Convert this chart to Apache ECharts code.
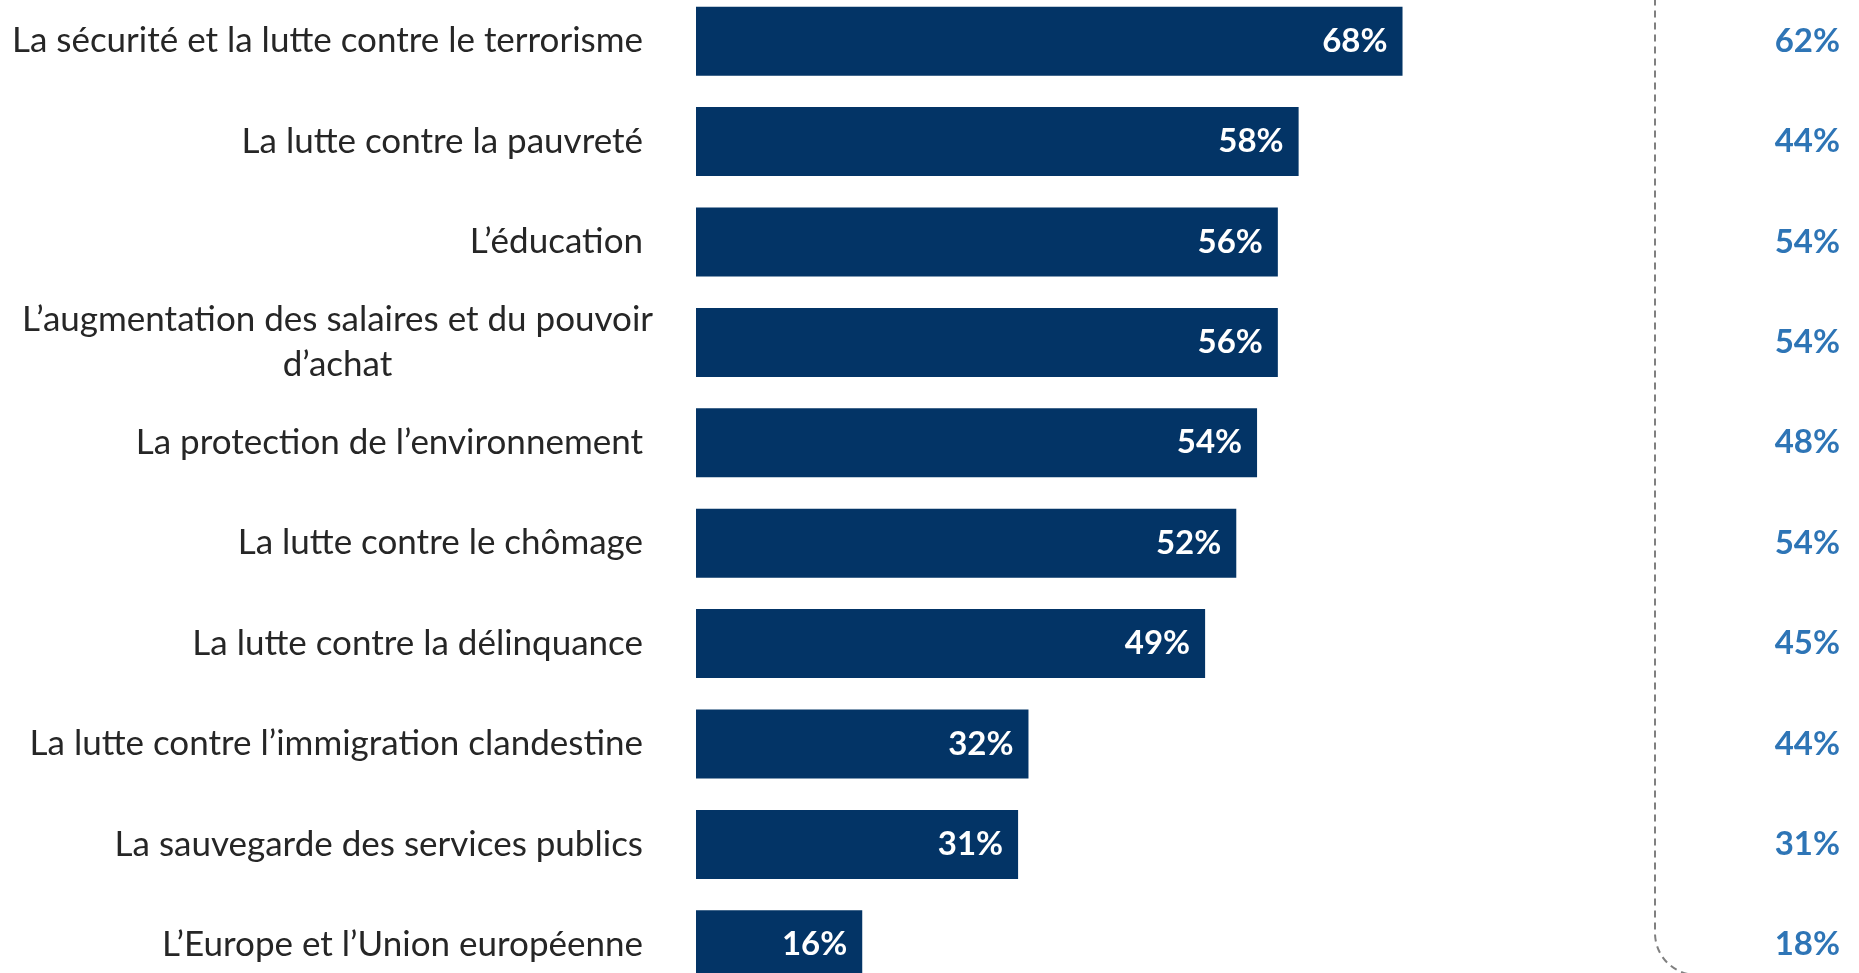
<!DOCTYPE html>
<html>
<head>
<meta charset="utf-8">
<script src="https://cdn.jsdelivr.net/npm/echarts@6/dist/echarts.min.js"></script>
<style>
  html, body { margin: 0; padding: 0; background: #fff; }
  #chart { width: 1859px; height: 973px; }
</style>
</head>
<body>
<div id="chart"></div>
<script>
// themes, top to bottom
var categories = [
    'La sécurité et la lutte contre le terrorisme',
    'La lutte contre la pauvreté',
    'L\u2019éducation',
    'L\u2019augmentation des salaires et du pouvoir\nd\u2019achat',
    'La protection de l\u2019environnement',
    'La lutte contre le chômage',
    'La lutte contre la délinquance',
    'La lutte contre l\u2019immigration clandestine',
    'La sauvegarde des services publics',
    'L\u2019Europe et l\u2019Union européenne'
];
var currentValues = [68, 58, 56, 56, 54, 52, 49, 32, 31, 16];
var previousValues = [62, 44, 54, 54, 48, 54, 45, 44, 31, 18];

var chart = echarts.init(document.getElementById('chart'));

var option = {
    animation: false,
    grid: {
        left: 696,
        right: 124,
        top: -9,
        bottom: -22,
        outerBoundsMode: 'none'
    },
    xAxis: {
        type: 'value',
        min: 0,
        max: 100,
        show: false
    },
    yAxis: [
        {
            type: 'category',
            data: categories,
            inverse: true,
            axisLine: { show: false },
            axisTick: { show: false },
            axisLabel: {
                margin: 53,
                fontFamily: 'Lato',
                fontSize: 35,
                color: '#262626',
                lineHeight: 45,
                formatter: function (v) {
                    if (v.indexOf('\n') < 0) return v;
                    return v.split('\n').map(function (s) { return '{c|' + s + '}'; }).join('\n');
                },
                rich: {
                    c: {
                        width: 611,
                        align: 'center',
                        fontFamily: 'Lato',
                        fontSize: 35,
                        color: '#262626',
                        lineHeight: 45
                    }
                }
            }
        },
        {
            type: 'category',
            position: 'right',
            data: previousValues,
            inverse: true,
            axisLine: { show: false },
            axisTick: { show: false },
            axisLabel: {
                margin: 105,
                align: 'right',
                fontFamily: 'Lato',
                fontWeight: 'bold',
                fontSize: 33,
                color: '#2E75B6',
                formatter: '{value}%'
            }
        }
    ],
    series: [{
        type: 'bar',
        data: currentValues,
        barWidth: 69,
        itemStyle: { color: '#033466' },
        label: {
            show: true,
            position: 'insideRight',
            distance: 15,
            color: '#fff',
            fontFamily: 'Lato',
            fontWeight: 'bold',
            fontSize: 33,
            formatter: '{c}%'
        }
    }],
    graphic: [{
        type: 'rect',
        silent: true,
        shape: { x: 1655, y: -60, width: 300, height: 1035, r: 42 },
        style: {
            fill: null,
            stroke: '#808080',
            lineWidth: 2,
            lineDash: [7, 5]
        }
    }]
};

chart.setOption(option);
</script>
</body>
</html>
